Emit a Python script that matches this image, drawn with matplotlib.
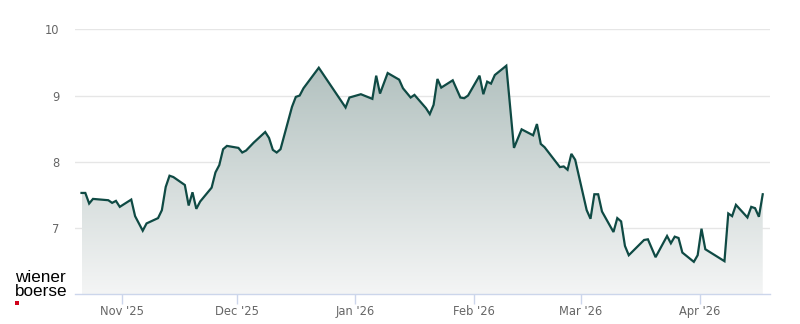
import matplotlib
matplotlib.use("Agg")
import matplotlib.pyplot as plt
import matplotlib.dates as mdates
from matplotlib.colors import LinearSegmentedColormap
from matplotlib.patches import Rectangle
import numpy as np
import pandas as pd

dates = [
    "2025-10-21", "2025-10-22", "2025-10-23", "2025-10-24", "2025-10-28", "2025-10-29",
    "2025-10-30", "2025-10-31", "2025-11-03", "2025-11-04", "2025-11-06", "2025-11-07",
    "2025-11-10", "2025-11-11", "2025-11-12", "2025-11-13", "2025-11-14", "2025-11-17",
    "2025-11-18", "2025-11-19", "2025-11-20", "2025-11-21", "2025-11-24", "2025-11-25",
    "2025-11-26", "2025-11-27", "2025-11-28", "2025-12-01", "2025-12-02", "2025-12-03",
    "2025-12-05", "2025-12-08", "2025-12-09", "2025-12-10", "2025-12-11", "2025-12-12",
    "2025-12-15", "2025-12-16", "2025-12-17", "2025-12-18", "2025-12-22", "2025-12-29",
    "2025-12-30", "2026-01-02", "2026-01-05", "2026-01-06", "2026-01-07", "2026-01-09",
    "2026-01-12", "2026-01-13", "2026-01-15", "2026-01-16", "2026-01-19", "2026-01-20",
    "2026-01-21", "2026-01-22", "2026-01-23", "2026-01-26", "2026-01-28", "2026-01-29",
    "2026-01-30", "2026-02-02", "2026-02-03", "2026-02-04", "2026-02-05", "2026-02-06",
    "2026-02-09", "2026-02-11", "2026-02-13", "2026-02-16", "2026-02-17", "2026-02-18",
    "2026-02-19", "2026-02-23", "2026-02-24", "2026-02-25", "2026-02-26", "2026-02-27",
    "2026-03-02", "2026-03-03", "2026-03-04", "2026-03-05", "2026-03-06", "2026-03-09",
    "2026-03-10", "2026-03-11", "2026-03-12", "2026-03-13", "2026-03-17", "2026-03-18",
    "2026-03-20", "2026-03-23", "2026-03-24", "2026-03-25", "2026-03-26", "2026-03-27",
    "2026-03-30", "2026-03-31", "2026-04-01", "2026-04-02", "2026-04-07", "2026-04-08",
    "2026-04-09", "2026-04-10", "2026-04-13", "2026-04-14", "2026-04-15", "2026-04-16",
    "2026-04-17",
]
prices = [
    7.53, 7.53, 7.37, 7.44, 7.42, 7.38,
    7.41, 7.32, 7.43, 7.18, 6.96, 7.07,
    7.15, 7.27, 7.62, 7.79, 7.77, 7.65,
    7.34, 7.54, 7.29, 7.40, 7.61, 7.84,
    7.95, 8.19, 8.24, 8.21, 8.14, 8.17,
    8.29, 8.45, 8.36, 8.18, 8.14, 8.19,
    8.83, 8.98, 9.00, 9.11, 9.42, 8.82,
    8.97, 9.02, 8.95, 9.30, 9.03, 9.34,
    9.24, 9.11, 8.97, 9.01, 8.81, 8.72,
    8.86, 9.25, 9.12, 9.23, 8.97, 8.96,
    9.00, 9.30, 9.02, 9.21, 9.18, 9.31,
    9.45, 8.21, 8.49, 8.40, 8.57, 8.27,
    8.22, 7.92, 7.93, 7.88, 8.12, 8.03,
    7.27, 7.14, 7.51, 7.51, 7.25, 6.94,
    7.15, 7.10, 6.73, 6.59, 6.82, 6.83,
    6.56, 6.88, 6.77, 6.87, 6.85, 6.63,
    6.49, 6.59, 6.99, 6.68, 6.50, 7.22,
    7.18, 7.35, 7.16, 7.32, 7.30, 7.17,
    7.51,
]
y_ticks = [7, 8, 9, 10]
y_tick_labels = ["7", "8", "9", "10"]
x_tick_dates = ["2025-11-01", "2025-12-01", "2026-01-01", "2026-02-01", "2026-03-01", "2026-04-01"]
x_tick_labels = ["Nov '25", "Dec '25", "Jan '26", "Feb '26", "Mar '26", "Apr '26"]

plt.rcParams['font.family'] = ['DejaVu Sans']

x = pd.to_datetime(dates) + pd.Timedelta(hours=12)
xn = mdates.date2num(x)
y = np.array(prices)

fig = plt.figure(figsize=(8, 3.24), dpi=100)
ax = fig.add_axes([75 / 800, 1 - 294.3 / 324, 695 / 800, (294.3 - 29.3) / 324])

ymin, ymax = 6, 10
line_color = "#0f4a44"

# gradient fill
poly = ax.fill_between(xn, y, ymin, facecolor="none", edgecolor="none", zorder=1)
cmap = LinearSegmentedColormap.from_list("g", ["#f4f5f5", "#b2c1bf"])
grad = np.linspace(0, 1, 256).reshape(-1, 1)
im = ax.imshow(grad, cmap=cmap, origin="lower", aspect="auto",
               extent=[xn.min(), xn.max(), ymin, y.max()], zorder=1)
path = poly.get_paths()[0]
im.set_clip_path(path, transform=ax.transData)

ax.plot(xn, y, color=line_color, lw=1.6, zorder=3, solid_joinstyle="miter")

x0 = mdates.date2num(pd.Timestamp("2025-11-01"))
ax.set_xlim(x0 - 12.2, x0 + 169.4)
ax.set_ylim(ymin, ymax)

ax.set_yticks(y_ticks)
ax.set_yticklabels(y_tick_labels)
ax.tick_params(axis="y", length=0, pad=11, labelsize=8.3, labelcolor="#666666")
ax.grid(axis="y", color="#e6e6e6", lw=1, zorder=0)
ax.set_axisbelow(True)

ax.set_xticks(mdates.date2num(pd.to_datetime(x_tick_dates)))
ax.set_xticklabels(x_tick_labels)
ax.tick_params(axis="x", length=7, width=1, color="#ccd6eb", pad=1, labelsize=8.3, labelcolor="#666666")

for s in ["top", "right", "left"]:
    ax.spines[s].set_visible(False)
ax.spines["bottom"].set_color("#ccd6eb")
ax.spines["bottom"].set_linewidth(1)

# logo
fig.text(15 / 800, 1 - 281.7 / 324, "wiener", fontsize=12.3, family="Liberation Sans",
         color="#000000", va="baseline", ha="left")
fig.text(15 / 800, 1 - 296.5 / 324, "boerse", fontsize=12.3, family="Liberation Sans",
         color="#000000", va="baseline", ha="left")
fig.patches.append(Rectangle((15 / 800, 1 - 305 / 324), 4 / 800, 4 / 324,
                             transform=fig.transFigure, facecolor="#d0021b", edgecolor="none"))

fig.savefig("out.png", dpi=100)
